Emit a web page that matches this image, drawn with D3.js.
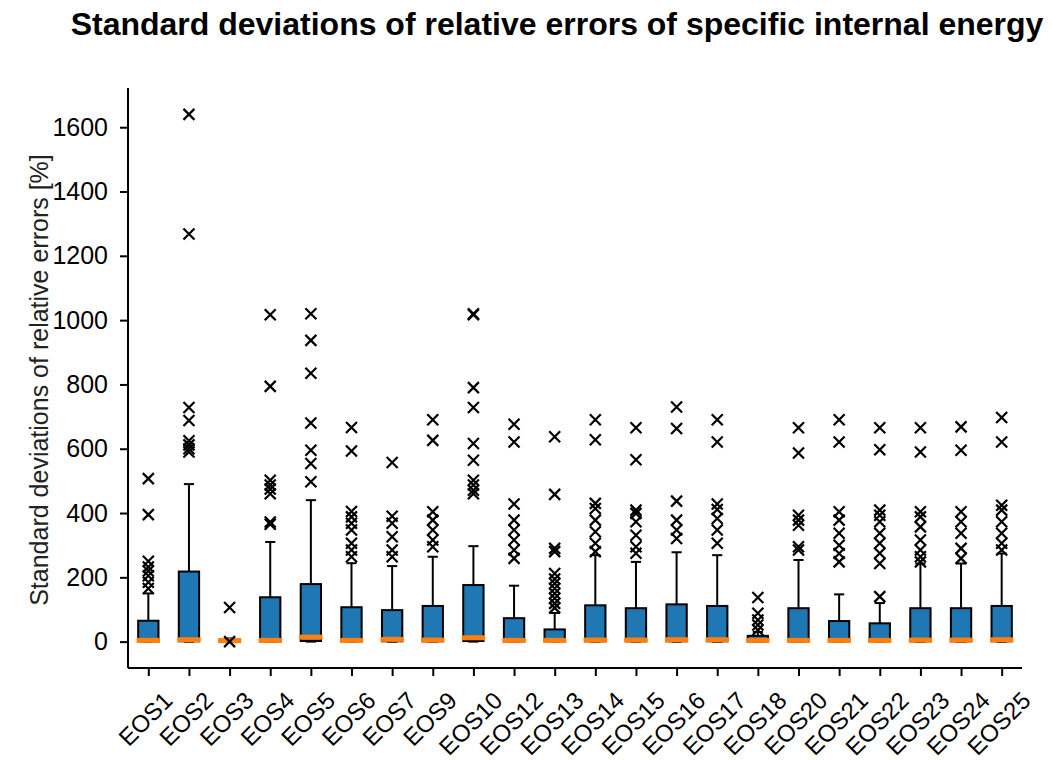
<!DOCTYPE html>
<html>
<head>
<meta charset="utf-8">
<script src="https://cdn.jsdelivr.net/npm/d3@7"></script>
<style>
    body { margin: 0; background: #fff; }
    svg { display: block; font-family: "Liberation Sans", Arial, Helvetica, sans-serif; }
</style>
</head>
<body>
<svg class="Box"></svg>
<script>
// values (percent)
let categories = ["EOS1", "EOS2", "EOS3", "EOS4", "EOS5", "EOS6", "EOS7", "EOS9", "EOS10", "EOS12", "EOS13",
    "EOS14", "EOS15", "EOS16", "EOS17", "EOS18", "EOS20", "EOS21", "EOS22", "EOS23", "EOS24", "EOS25"];
let whiskerLow = [0, 0, 0, 0, 0, 0, 0, 0, 0, 0, 0, 0, 0, 0, 0, 0, 0, 0, 0, 0, 0, 0];
let q1 = [1, 1, 0, 1, 2, 1, 1, 1, 2, 1, 1, 1, 1, 1, 1, 1, 1, 1, 1, 1, 1, 1];
let medians = [4, 6, 3, 4, 14, 4, 7, 5, 12, 4, 4, 5, 5, 6, 6, 4, 4, 4, 4, 5, 5, 6];
let q3 = [65, 218, 6, 138, 179, 107, 98, 111, 176, 73, 38, 113, 104, 116, 111, 18, 104, 64, 57, 104, 104, 111];
let whiskerHigh = [150, 490, 10, 310, 440, 244, 235, 264, 297, 174, 89, 269, 248, 278, 269, 30, 254, 147, 120, 243, 243, 274];
let outliers = [
    [507, 395, 250, 232, 220, 205, 185, 165],
    [1640, 1268, 728, 688, 625, 612, 600, 590],
    [106, 0],
    [1017, 794, 502, 487, 475, 460, 372, 365],
    [1020, 937, 835, 680, 595, 554, 497],
    [666, 593, 405, 388, 368, 347, 306, 285, 264],
    [557, 390, 368, 326, 285, 264],
    [690, 626, 404, 378, 347, 316, 295],
    [1020, 1017, 790, 728, 616, 564, 502, 487, 471, 460],
    [676, 621, 428, 378, 347, 316, 285, 259],
    [637, 458, 290, 280, 212, 195, 181, 165, 150, 135, 119, 105],
    [690, 628, 430, 414, 378, 342, 306, 280],
    [665, 566, 409, 399, 373, 331, 295, 275],
    [730, 663, 437, 378, 347, 321],
    [690, 621, 428, 411, 383, 347, 306],
    [137, 88, 67, 52, 36],
    [665, 587, 393, 378, 362, 295, 285],
    [690, 621, 404, 378, 337, 300, 274, 248],
    [665, 597, 409, 393, 373, 337, 306, 275, 243, 140],
    [665, 590, 404, 388, 357, 316, 285, 264, 248],
    [668, 595, 404, 373, 337, 290, 259],
    [697, 621, 424, 409, 373, 337, 306, 285]
];
let yTicks = [0, 200, 400, 600, 800, 1000, 1200, 1400, 1600];
let title = "Standard deviations of relative errors of specific internal energy";
let yLabel = "Standard deviations of relative errors [%]";

function drawBox(){
    let width = 1052, height = 760;
    let margin = {top: 88, right: 30, bottom: 92, left: 128};

    let svg = d3.select(".Box")
        .attr("width", width)
        .attr("height", height);

    let rows = categories.map((c, i) => ({
        name: c, lo: whiskerLow[i], q1: q1[i], med: medians[i], q3: q3[i], hi: whiskerHigh[i], out: outliers[i]
    }));

    // matplotlib style autoscale: 5% margin on the data range
    let allMax = d3.max(rows, d => d3.max([d.hi].concat(d.out)));
    let allMin = d3.min(rows, d => d3.min([d.lo].concat(d.out)));
    let pad = (allMax - allMin) * 0.05;

    let x = d3.scalePoint()
        .domain(categories)
        .range([margin.left, width - margin.right])
        .padding(0.5);
    let y = d3.scaleLinear()
        .domain([allMin - pad, allMax + pad])
        .range([height - margin.bottom, margin.top]);

    let step = x.step();
    let boxW = step * 0.5, capW = step * 0.25;

    let g = svg.append("g").attr("class", "boxes");

    let box = g.selectAll("g")
        .data(rows)
        .join("g")
        .attr("transform", d => `translate(${x(d.name)},0)`);

    // whiskers
    box.append("line")
        .attr("y1", d => y(d.q3)).attr("y2", d => y(d.hi))
        .attr("stroke", "#000").attr("stroke-width", 2);
    box.append("line")
        .attr("y1", d => y(d.q1)).attr("y2", d => y(d.lo))
        .attr("stroke", "#000").attr("stroke-width", 2);
    // caps
    box.append("line")
        .attr("x1", -capW / 2).attr("x2", capW / 2)
        .attr("y1", d => y(d.hi)).attr("y2", d => y(d.hi))
        .attr("stroke", "#000").attr("stroke-width", 2);
    box.append("line")
        .attr("x1", -capW / 2).attr("x2", capW / 2)
        .attr("y1", d => y(d.lo)).attr("y2", d => y(d.lo))
        .attr("stroke", "#000").attr("stroke-width", 2);
    // box
    box.append("rect")
        .attr("x", -boxW / 2)
        .attr("width", boxW)
        .attr("y", d => y(d.q3))
        .attr("height", d => y(d.q1) - y(d.q3))
        .attr("fill", "#1f77b4")
        .attr("stroke", "#000")
        .attr("stroke-width", 2);
    // median
    box.append("line")
        .attr("x1", -boxW / 2 - 1.5).attr("x2", boxW / 2 + 1.5)
        .attr("y1", d => y(d.med)).attr("y2", d => y(d.med))
        .attr("stroke", "#ff7f0e")
        .attr("stroke-width", 5);
    // fliers as 'x'
    let s = 5.5;
    box.selectAll("path.flier")
        .data(d => d.out)
        .join("path")
        .attr("class", "flier")
        .attr("d", v => `M${-s},${y(v) - s}L${s},${y(v) + s}M${-s},${y(v) + s}L${s},${y(v) - s}`)
        .attr("stroke", "#000")
        .attr("stroke-width", 2.2)
        .attr("fill", "none");

    // y axis
    let yAxis = svg.append("g")
        .attr("transform", `translate(${margin.left},0)`)
        .call(d3.axisLeft(y).tickValues(yTicks).tickFormat(d3.format("d"))
            .tickSize(8).tickPadding(12).tickSizeOuter(0));
    yAxis.select(".domain").attr("stroke", "#000").attr("stroke-width", 2)
        .attr("d", `M0,${margin.top}V${height - margin.bottom}`);
    yAxis.selectAll(".tick line").attr("stroke", "#000").attr("stroke-width", 2);
    yAxis.selectAll(".tick text").attr("font-size", 25).attr("fill", "#000")
        .attr("font-family", "Liberation Sans, Arial, sans-serif");

    // x axis, labels drawn separately (rotated 45°, centred on the tick)
    let xAxis = svg.append("g")
        .attr("transform", `translate(0,${height - margin.bottom})`)
        .call(d3.axisBottom(x).tickSize(8).tickSizeOuter(0).tickFormat(""));
    xAxis.select(".domain").attr("stroke", "#000").attr("stroke-width", 2)
        .attr("d", `M${margin.left},0H${width - margin.right}`);
    xAxis.selectAll(".tick line").attr("stroke", "#000").attr("stroke-width", 2);

    let fs = 24, cap = fs * 0.716, top = height - margin.bottom + 22;
    svg.append("g").attr("class", "xlabels")
        .selectAll("text")
        .data(categories)
        .join("text")
        .attr("font-size", fs)
        .attr("text-anchor", "middle")
        .attr("dy", "0.358em")
        .attr("fill", "#000")
        .text(d => d)
        .each(function(d){
            let w = this.getComputedTextLength();
            let cx = x(d) - 3, cy = top + 0.7071 * (w + cap) / 2;
            d3.select(this)
                .attr("x", cx).attr("y", cy)
                .attr("transform", `rotate(-45,${cx},${cy})`);
        });

    // y label
    svg.append("text")
        .attr("transform", `translate(48,${(margin.top + height - margin.bottom) / 2 + 2})rotate(-90)`)
        .attr("text-anchor", "middle")
        .attr("font-size", 25)
        .attr("fill", "#222")
        .text(yLabel);

    // title
    svg.append("text")
        .attr("x", 557)
        .attr("y", 35)
        .attr("text-anchor", "middle")
        .attr("font-size", 32)
        .attr("font-weight", "bold")
        .attr("fill", "#000")
        .text(title);
}

drawBox();
</script>
</body>
</html>
